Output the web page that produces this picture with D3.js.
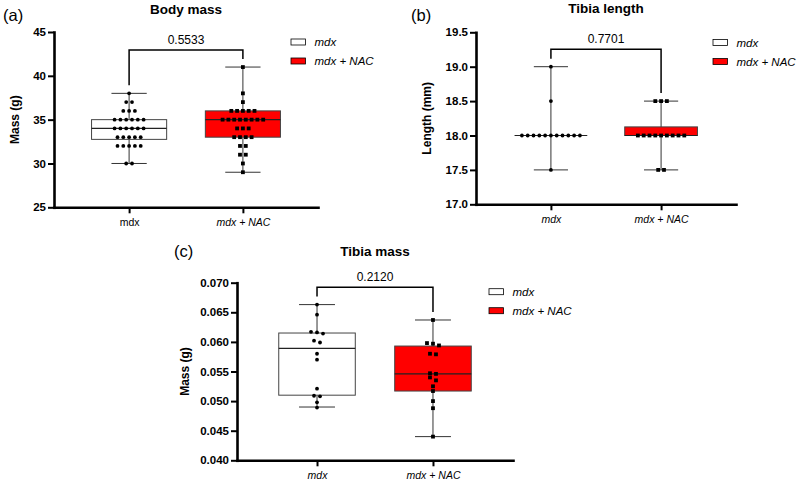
<!DOCTYPE html>
<html>
<head>
<meta charset="utf-8">
<script src="https://cdn.jsdelivr.net/npm/d3@7"></script>
<style>
  body { margin: 0; background: #fff; }
  svg { display: block; font-family: "Liberation Sans", Arial, sans-serif; }
</style>
</head>
<body>
<div id="chart"></div>
<script>
// groups shown on every panel
const groups = ["mdx", "mdx + NAC"];

// (a) body mass, g
const bodyMassMdx = [38, 37, 37, 36, 36, 36, 35, 35, 35, 35, 35, 35, 34, 34, 34, 34, 34, 34,
    33, 33, 33, 33, 33, 32, 32, 32, 32, 32, 30, 30];
const bodyMassNac = [41, 38, 37, 36, 36, 36, 36, 36, 35, 35, 35, 35, 35, 35, 35, 35,
    34, 34, 34, 33, 33, 33, 33, 32, 32, 31, 31, 30, 29];
// min, q1, median, q3, max
const bodyMassStats = [[30, 32.75, 34, 35, 38], [29, 33, 35, 36, 41]];
const bodyMassTicks = [25, 30, 35, 40, 45];

// (b) tibia length, mm
const tibiaLengthMdx = [19.0, 18.5, 18.0, 18.0, 18.0, 18.0, 18.0, 18.0, 18.0, 18.0, 18.0, 18.0, 18.0, 17.5];
const tibiaLengthNac = [18.5, 18.5, 18.5, 18.0, 18.0, 18.0, 18.0, 18.0, 18.0, 18.0, 18.0, 18.0, 17.5, 17.5];
const tibiaLengthStats = [[17.5, 18.0, 18.0, 18.0, 19.0], [17.5, 18.0, 18.0, 18.125, 18.5]];
const tibiaLengthTicks = [17.0, 17.5, 18.0, 18.5, 19.0, 19.5];

// (c) tibia mass, g
const tibiaMassMdx = [0.0663, 0.0646, 0.0617, 0.0616, 0.0614, 0.0602, 0.0599, 0.0580, 0.0570,
    0.0521, 0.0509, 0.0508, 0.0498, 0.0489];
const tibiaMassNac = [0.0637, 0.0598, 0.0597, 0.0594, 0.0580, 0.0579, 0.0547, 0.0546, 0.0540,
    0.0535, 0.0525, 0.0517, 0.0500, 0.0488, 0.0440];
const tibiaMassStats = [[0.0490, 0.0510, 0.0589, 0.0615, 0.0663], [0.0440, 0.0517, 0.0546, 0.0593, 0.0637]];
const tibiaMassTicks = [0.040, 0.045, 0.050, 0.055, 0.060, 0.065, 0.070];

const pValues = ["0.5533", "0.7701", "0.2120"];

const svg = d3.select("#chart").append("svg")
    .attr("width", 800)
    .attr("height", 482);

// simple beeswarm: points closer than thr px share a row, spread evenly around the center
function swarm(values, cx, y, spacing, thr) {
    const pts = values.map(v => ({v: v, py: y(v)})).sort((a, b) => a.py - b.py);
    const rows = [];
    let cur = null;
    pts.forEach(p => {
        if (cur && Math.abs(p.py - cur[0].py) < thr) cur.push(p);
        else { cur = [p]; rows.push(cur); }
    });
    rows.forEach(r => r.forEach((p, i) => { p.px = cx + (i - (r.length - 1) / 2) * spacing; }));
    return pts;
}

function drawPanel(cfg) {
    const g = svg.append("g");
    const y = d3.scaleLinear().domain(cfg.domain).range([cfg.bottom, cfg.top]);
    const x = d3.scalePoint().domain(groups).range([cfg.left, cfg.right]).padding(cfg.pad);
    const step = x.step();
    const boxHalf = step * 0.33;
    const capHalf = step * 0.155;

    // whiskers + boxes
    cfg.stats.forEach((s, i) => {
        const cx = x(groups[i]);
        const c = g.append("g");
        c.append("line")
            .attr("x1", cx).attr("x2", cx)
            .attr("y1", y(s[0])).attr("y2", y(s[4]))
            .attr("stroke", "#333").attr("stroke-width", 1);
        [s[0], s[4]].forEach(v => {
            c.append("line")
                .attr("x1", cx - capHalf).attr("x2", cx + capHalf)
                .attr("y1", y(v)).attr("y2", y(v))
                .attr("stroke", "#333").attr("stroke-width", 1);
        });
        c.append("rect")
            .attr("x", cx - boxHalf)
            .attr("y", y(s[3]))
            .attr("width", boxHalf * 2)
            .attr("height", Math.max(0, y(s[1]) - y(s[3])))
            .attr("fill", i === 0 ? "#fff" : "#ff0000")
            .attr("stroke", "#444").attr("stroke-width", 1);
        c.append("line")
            .attr("x1", cx - boxHalf).attr("x2", cx + boxHalf)
            .attr("y1", y(s[2])).attr("y2", y(s[2]))
            .attr("stroke", "#222").attr("stroke-width", 1.2);
    });

    // points
    const mdxPts = swarm(cfg.mdx, x(groups[0]), y, cfg.spacing, 3.8);
    g.append("g").selectAll("circle")
        .data(mdxPts)
        .enter().append("circle")
        .attr("cx", d => d.px)
        .attr("cy", d => d.py)
        .attr("r", 1.9)
        .attr("fill", "#000");
    const nacPts = swarm(cfg.nac, x(groups[1]), y, cfg.spacing, 3.8);
    g.append("g").selectAll("rect")
        .data(nacPts)
        .enter().append("rect")
        .attr("x", d => d.px - 1.9)
        .attr("y", d => d.py - 1.9)
        .attr("width", 3.8)
        .attr("height", 3.8)
        .attr("fill", "#000");

    // y axis
    const yAxis = g.append("g")
        .attr("transform", `translate(${cfg.left},0)`)
        .call(d3.axisLeft(y).tickValues(cfg.ticks).tickFormat(cfg.fmt).tickSize(6).tickPadding(2).tickSizeOuter(0));
    yAxis.select(".domain").attr("stroke", "#000").attr("stroke-width", 2.6).attr("stroke-linecap", "square");
    yAxis.selectAll(".tick line").attr("stroke", "#000").attr("stroke-width", 2);
    yAxis.selectAll(".tick text")
        .attr("font-size", "11.5px")
        .attr("font-weight", "bold")
        .attr("fill", "#000")
        .attr("font-family", "Liberation Sans, Arial, sans-serif");

    // x axis
    const xAxis = g.append("g")
        .attr("transform", `translate(0,${cfg.bottom})`)
        .call(d3.axisBottom(x).tickSize(6).tickPadding(5.5).tickSizeOuter(0));
    xAxis.select(".domain").attr("stroke", "#000").attr("stroke-width", 2.6).attr("stroke-linecap", "square");
    xAxis.selectAll(".tick line").attr("stroke", "#000").attr("stroke-width", 2);
    xAxis.selectAll(".tick text")
        .attr("font-size", "10.5px")
        .attr("fill", "#000")
        .attr("font-family", "Liberation Sans, Arial, sans-serif")
        .attr("font-style", (d, i) => (i === 0 && !cfg.italicFirst) ? "normal" : "italic");

    // y axis title
    g.append("text")
        .attr("transform", `translate(${cfg.yTitleX},${(cfg.top + cfg.bottom) / 2}) rotate(-90)`)
        .attr("dy", "0.35em")
        .attr("text-anchor", "middle")
        .attr("font-size", "12px")
        .attr("font-weight", "bold")
        .text(cfg.yTitle);

    // panel title + letter
    g.append("text")
        .attr("x", (cfg.left + cfg.right) / 2)
        .attr("y", cfg.titleY)
        .attr("text-anchor", "middle")
        .attr("font-size", "13.5px")
        .attr("font-weight", "bold")
        .text(cfg.title);
    g.append("text")
        .attr("x", cfg.letterX)
        .attr("y", cfg.letterY)
        .attr("font-size", "16.5px")
        .text(cfg.letter);

    // significance bracket
    const x0 = x(groups[0]), x1 = x(groups[1]);
    g.append("path")
        .attr("d", `M${x0},${y(cfg.stats[0][4]) - 8}V${cfg.bracketY}H${x1}V${y(cfg.stats[1][4]) - 8}`)
        .attr("fill", "none")
        .attr("stroke", "#000")
        .attr("stroke-width", 1.5);
    g.append("text")
        .attr("x", (x0 + x1) / 2)
        .attr("y", cfg.bracketY - 6)
        .attr("text-anchor", "middle")
        .attr("font-size", "12px")
        .text(cfg.p);

    // legend
    groups.forEach((name, i) => {
        const ly = cfg.legendY + i * 19;
        g.append("rect")
            .attr("x", cfg.legendX)
            .attr("y", ly - 3)
            .attr("width", 14.5)
            .attr("height", 6)
            .attr("fill", i === 0 ? "#fff" : "#ff0000")
            .attr("stroke", "#000")
            .attr("stroke-width", 0.8);
        g.append("text")
            .attr("x", cfg.legendX + 23.5)
            .attr("y", ly)
            .attr("dy", "0.35em")
            .attr("font-size", "11.5px")
            .attr("font-style", "italic")
            .text(name);
    });
}

drawPanel({
    mdx: bodyMassMdx, nac: bodyMassNac, stats: bodyMassStats,
    domain: [25, 45], ticks: bodyMassTicks, fmt: d3.format("d"),
    left: 54, right: 318, top: 32, bottom: 207.3, pad: 0.66, spacing: 5.8,
    italicFirst: false,
    yTitle: "Mass (g)", yTitleX: 15,
    title: "Body mass", titleY: 14, letter: "(a)", letterX: 3, letterY: 21,
    p: pValues[0], bracketY: 50,
    legendX: 291, legendY: 42
});

drawPanel({
    mdx: tibiaLengthMdx, nac: tibiaLengthNac, stats: tibiaLengthStats,
    domain: [17.0, 19.5], ticks: tibiaLengthTicks, fmt: d3.format(".1f"),
    left: 476, right: 736, top: 32.3, bottom: 204.3, pad: 0.68, spacing: 5.8,
    italicFirst: true,
    yTitle: "Length (mm)", yTitleX: 427,
    title: "Tibia length", titleY: 13, letter: "(b)", letterX: 411, letterY: 21,
    p: pValues[1], bracketY: 49.3,
    legendX: 713, legendY: 42.5
});

drawPanel({
    mdx: tibiaMassMdx, nac: tibiaMassNac, stats: tibiaMassStats,
    domain: [0.040, 0.070], ticks: tibiaMassTicks, fmt: d3.format(".3f"),
    left: 237, right: 513, top: 282.7, bottom: 460.3, pad: 0.69, spacing: 6,
    italicFirst: true,
    yTitle: "Mass (g)", yTitleX: 185,
    title: "Tibia mass", titleY: 255.5, letter: "(c)", letterX: 174, letterY: 257,
    p: pValues[2], bracketY: 287.3,
    legendX: 489, legendY: 291.7
});
</script>
</body>
</html>
